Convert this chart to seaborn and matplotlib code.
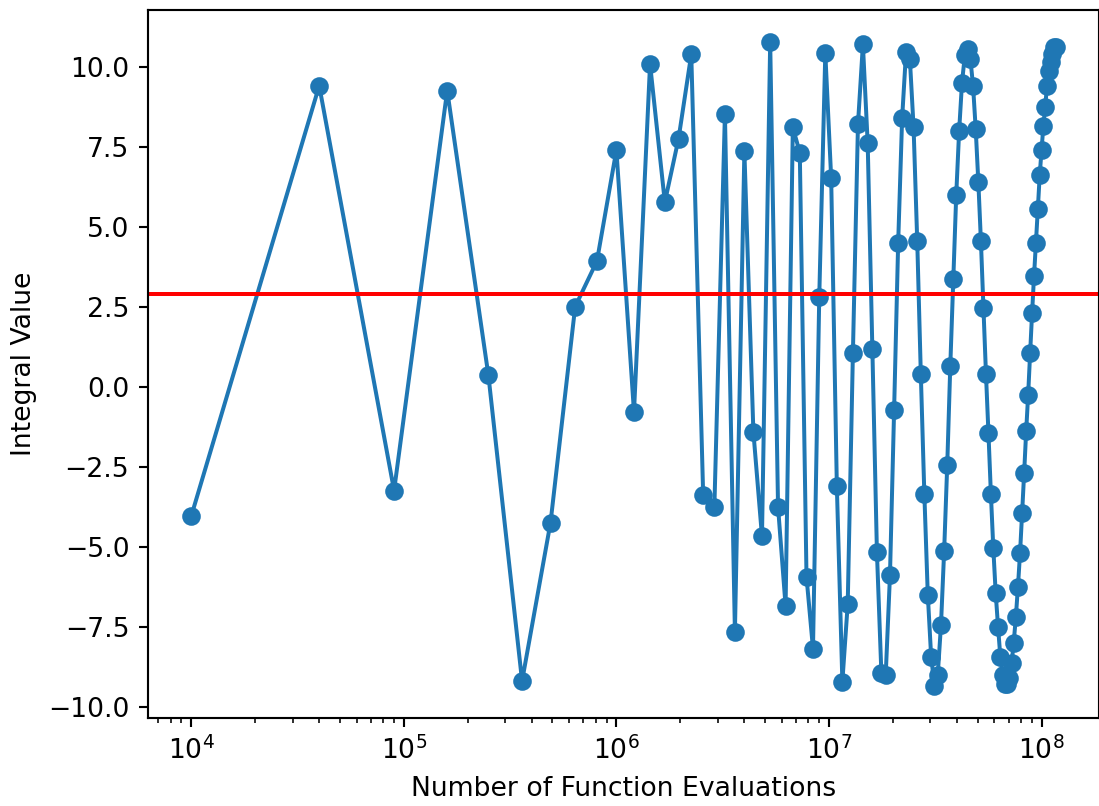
import pandas as pd
import matplotlib
matplotlib.use("Agg")
import matplotlib.pyplot as plt
import seaborn as sns

# Number of function evaluations (x axis, log scale)
evaluations = [
    10000, 40000, 90000, 160000, 250000, 360000, 490000, 640000, 810000, 1000000,
    1210000, 1440000, 1690000, 1960000, 2250000, 2560000, 2890000, 3240000, 3610000, 4000000,
    4410000, 4840000, 5290000, 5760000, 6250000, 6760000, 7290000, 7840000, 8410000, 9000000,
    9610000, 10240000, 10890000, 11560000, 12250000, 12960000, 13690000, 14440000, 15210000, 16000000,
    16810000, 17640000, 18490000, 19360000, 20250000, 21160000, 22090000, 23040000, 24010000, 25000000,
    26010000, 27040000, 28090000, 29160000, 30250000, 31360000, 32490000, 33640000, 34810000, 36000000,
    37210000, 38440000, 39690000, 40960000, 42250000, 43560000, 44890000, 46240000, 47610000, 49000000,
    50410000, 51840000, 53290000, 54760000, 56250000, 57760000, 59290000, 60840000, 62410000, 64000000,
    65610000, 67240000, 68890000, 70560000, 72250000, 73960000, 75690000, 77440000, 79210000, 81000000,
    82810000, 84640000, 86490000, 88360000, 90250000, 92160000, 94090000, 96040000, 98010000, 100000000,
    102010000, 104040000, 106090000, 108160000, 110250000, 112360000, 114490000, 116640000,
]

# Integral estimate at each evaluation count
integral_values = [
    -4.05, 9.40, -3.25, 9.25, 0.35, -9.20, -4.25, 2.50, 3.92, 7.39,
    -0.80, 10.08, 5.76, 7.74, 10.38, -3.40, -3.75, 8.52, -7.67, 7.35,
    -1.42, -4.68, 10.76, -3.76, -6.86, 8.10, 7.31, -5.95, -8.19, 2.80,
    10.42, 6.52, -3.12, -9.22, -6.80, 1.06, 8.20, 10.69, 7.60, 1.16,
    -5.18, -8.95, -9.00, -5.90, -0.72, 4.50, 8.40, 10.45, 10.25, 8.10,
    4.55, 0.40, -3.35, -6.50, -8.45, -9.35, -9.00, -7.45, -5.15, -2.45,
    0.65, 3.35, 6.00, 8.00, 9.50, 10.35, 10.55, 10.25, 9.40, 8.05,
    6.40, 4.55, 2.45, 0.40, -1.45, -3.35, -5.05, -6.45, -7.50, -8.45,
    -9.00, -9.30, -9.30, -9.10, -8.65, -8.00, -7.20, -6.25, -5.20, -3.95,
    -2.70, -1.40, -0.25, 1.05, 2.30, 3.45, 4.50, 5.55, 6.60, 7.40,
    8.15, 8.75, 9.40, 9.85, 10.15, 10.40, 10.60, 10.60,
]

# Reference (exact) value drawn as a horizontal line
exact_value = 2.88

df = pd.DataFrame({"evals": evaluations, "value": integral_values})

DPI = 191.5
fig = plt.figure(figsize=(1099 / DPI, 806 / DPI), dpi=DPI)
ax = fig.add_axes([148 / 1099, 1 - 718 / 806, 1 - 148 / 1099, (718 - 10) / 806])

sns.lineplot(data=df, x="evals", y="value", ax=ax, marker="o", markersize=6,
             color="#1f77b4", markeredgecolor="#1f77b4", markeredgewidth=1,
             linewidth=1.5)
ax.axhline(exact_value, color="red", linewidth=1.5)

ax.set_xscale("log")
ax.set_xlabel("Number of Function Evaluations")
ax.set_ylabel("Integral Value")

fig.savefig("out.png", dpi=DPI)
